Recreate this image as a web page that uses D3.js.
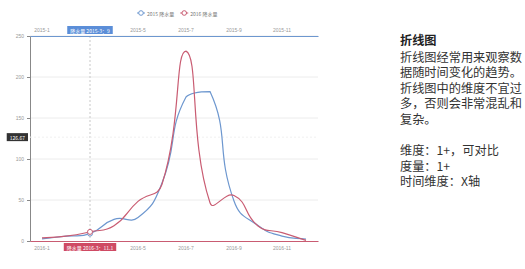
<!DOCTYPE html>
<html>
<head>
<meta charset="utf-8">
<script src="https://cdn.jsdelivr.net/npm/d3@7"></script>
<style>
  html, body { margin: 0; padding: 0; background: #fff; }
  body { position: relative; width: 525px; height: 269px; overflow: hidden; }
  svg { display: block; font-family: "Noto Sans CJK SC", "Noto Sans", sans-serif; }
  #note {
    position: absolute; left: 400px; top: 33px; width: 125px;
    font-family: "Noto Sans CJK SC", sans-serif; font-size: 12.2px; line-height: 15.6px;
    color: #333; white-space: pre-line;
  }
  #note .title { font-weight: bold; color: #222; margin-bottom: 1px; }
</style>
</head>
<body>
<svg id="chart" width="525" height="269"></svg>
<div id="note"></div>
<script>
const months2015 = ['2015-1', '2015-2', '2015-3', '2015-4', '2015-5', '2015-6', '2015-7', '2015-8', '2015-9', '2015-10', '2015-11', '2015-12'];
const months2016 = ['2016-1', '2016-2', '2016-3', '2016-4', '2016-5', '2016-6', '2016-7', '2016-8', '2016-9', '2016-10', '2016-11', '2016-12'];
const rain2015 = [2.6, 5.9, 9.0, 26.4, 28.7, 70.7, 175.6, 182.2, 48.7, 18.8, 6.0, 2.3];
const rain2016 = [3.9, 5.9, 11.1, 18.7, 48.3, 69.2, 231.6, 46.6, 55.4, 18.4, 10.3, 0.7];
const yTicks = [0, 50, 100, 150, 200, 250];
const legendNames = ['2015 降水量', '2016 降水量'];
const hoverIndex = 2;
const pointerValue = 126.67;
const noteTitle = '折线图';
const noteLines = ['折线图经常用来观察数', '据随时间变化的趋势。', '折线图中的维度不宜过', '多，否则会非常混乱和', '复杂。', '', '维度：1+，可对比', '度量：1+', '时间维度：X轴'];

const blue = '#6d97cf', red = '#c95c72';
const grid = { left: 30, right: 318, top: 36, bottom: 241 };

// echarts-like smooth bezier (smooth = 0.5)
function smoothCurve(context) {
  return {
    areaStart() {}, areaEnd() {},
    lineStart() { this.pts = []; },
    point(x, y) { this.pts.push([x, y]); },
    lineEnd() {
      const p = this.pts, s = 0.5;
      const ys = p.map(d => d[1]), minY = d3.min(ys), maxY = d3.max(ys);
      const cps = p.map((pt, i) => {
        const prev = p[i - 1] || pt, next = p[i + 1] || pt;
        const vx = (next[0] - prev[0]) * s, vy = (next[1] - prev[1]) * s;
        const d0 = Math.hypot(pt[0] - prev[0], pt[1] - prev[1]);
        const d1 = Math.hypot(next[0] - pt[0], next[1] - pt[1]);
        const r = d0 + d1 === 0 ? 0.5 : d1 / (d0 + d1);
        const clamp = v => Math.max(minY, Math.min(maxY, v));
        return {
          c0: [pt[0] - vx * (1 - r), clamp(pt[1] - vy * (1 - r))],
          c1: [pt[0] + vx * r, clamp(pt[1] + vy * r)]
        };
      });
      context.moveTo(p[0][0], p[0][1]);
      for (let i = 1; i < p.length; i++) {
        const a = cps[i - 1].c1, b = cps[i].c0;
        context.bezierCurveTo(a[0], a[1], b[0], b[1], p[i][0], p[i][1]);
      }
    }
  };
}

const svg = d3.select('#chart');

const x2016 = d3.scaleBand().domain(months2016).range([grid.left, grid.right]);
const x2015 = d3.scaleBand().domain(months2015).range([grid.left, grid.right]);
const y = d3.scaleLinear().domain([0, 250]).range([grid.bottom, grid.top]);

// grid lines
svg.append('g').selectAll('line').data(yTicks.slice(1)).join('line')
  .attr('x1', grid.left).attr('x2', grid.right)
  .attr('y1', d => y(d)).attr('y2', d => y(d))
  .attr('stroke', '#ececec').attr('stroke-width', 1);

// y axis
const yAxis = svg.append('g').attr('transform', `translate(${grid.left},0)`)
  .call(d3.axisLeft(y).tickValues(yTicks).tickSize(3).tickPadding(3));
yAxis.select('.domain').attr('stroke', '#888');
yAxis.selectAll('.tick line').attr('stroke', '#888');
yAxis.selectAll('text').attr('fill', '#999').attr('font-size', 5);

// pointer lines
const hx = x2016(months2016[hoverIndex]) + x2016.bandwidth() / 2;
svg.append('line')
  .attr('x1', hx).attr('x2', hx)
  .attr('y1', grid.top).attr('y2', grid.bottom)
  .attr('stroke', '#c8c8c8').attr('stroke-dasharray', '2,2');
svg.append('line')
  .attr('x1', grid.left).attr('x2', grid.right)
  .attr('y1', y(pointerValue)).attr('y2', y(pointerValue))
  .attr('stroke', '#f0f0f0').attr('stroke-dasharray', '2,2');

// every other month is labelled; the hovered one sits under its pointer label
const showLabel = (d, i) => i % 2 === 0 && i !== hoverIndex ? d : '';

// bottom x axis (2016)
const xb = svg.append('g').attr('transform', `translate(0,${grid.bottom})`)
  .call(d3.axisBottom(x2016).tickSize(0).tickPadding(5).tickFormat(showLabel));
xb.select('.domain').attr('stroke', red).attr('stroke-width', 1.2);
xb.selectAll('text').attr('fill', '#999').attr('font-size', 5);

// top x axis (2015)
const xt = svg.append('g').attr('transform', `translate(0,${grid.top})`)
  .call(d3.axisTop(x2015).tickSize(0).tickPadding(4).tickFormat(showLabel));
xt.select('.domain').attr('stroke', blue).attr('stroke-width', 1.2);
xt.selectAll('text').attr('fill', '#999').attr('font-size', 5);

// lines
const line = scale => d3.line()
  .x((d, i) => scale(scale.domain()[i]) + scale.bandwidth() / 2)
  .y(d => y(d))
  .curve(smoothCurve);

svg.append('path').datum(rain2015).attr('d', line(x2015))
  .attr('fill', 'none').attr('stroke', blue).attr('stroke-width', 1.2);
svg.append('path').datum(rain2016).attr('d', line(x2016))
  .attr('fill', 'none').attr('stroke', red).attr('stroke-width', 1.2);

// hovered symbols
[[x2015, rain2015, blue], [x2016, rain2016, red]].forEach(([sc, vals, c]) => {
  svg.append('circle')
    .attr('cx', sc(sc.domain()[hoverIndex]) + sc.bandwidth() / 2)
    .attr('cy', y(vals[hoverIndex]))
    .attr('r', 2.5).attr('fill', '#fff').attr('stroke', c).attr('stroke-width', 1);
});

// axis pointer labels
function pointerLabel(cx, cy, text, bg, anchor) {
  const g = svg.append('g');
  const t = g.append('text').text(text).attr('font-size', 5).attr('fill', '#fff')
    .attr('dominant-baseline', 'central').attr('text-anchor', 'middle');
  const w = t.node().getComputedTextLength() + 6, h = 8;
  const left = anchor === 'right' ? cx - w : cx - w / 2;
  g.insert('rect', 'text').attr('x', left).attr('y', cy - h / 2)
    .attr('width', w).attr('height', h).attr('fill', bg);
  t.attr('x', left + w / 2).attr('y', cy);
}
pointerLabel(hx, grid.top - 6, `降水量 ${months2015[hoverIndex]}：${rain2015[hoverIndex]}`, '#5b8ed8');
pointerLabel(hx, grid.bottom + 6, `降水量 ${months2016[hoverIndex]}：${rain2016[hoverIndex]}`, '#cf4a64');
pointerLabel(grid.left - 2, y(pointerValue), pointerValue.toFixed(2), '#333', 'right');

// legend
const legend = svg.append('g').attr('transform', 'translate(137,13)');
let lx = 0;
legendNames.forEach((name, i) => {
  const c = i === 0 ? blue : red;
  const g = legend.append('g').attr('transform', `translate(${lx},0)`);
  g.append('line').attr('x1', 0).attr('x2', 8).attr('stroke', c).attr('stroke-width', 1);
  g.append('circle').attr('cx', 4).attr('r', 2.3).attr('fill', '#fff').attr('stroke', c);
  const t = g.append('text').text(name).attr('x', 10).attr('font-size', 5)
    .attr('dominant-baseline', 'central').attr('fill', '#777');
  lx += 10 + t.node().getComputedTextLength() + 6;
});

// side note as a plain html paragraph
const note = d3.select('#note');
note.append('div').attr('class', 'title').text(noteTitle);
note.append('div').text(noteLines.join('\n'));
</script>
</body>
</html>
